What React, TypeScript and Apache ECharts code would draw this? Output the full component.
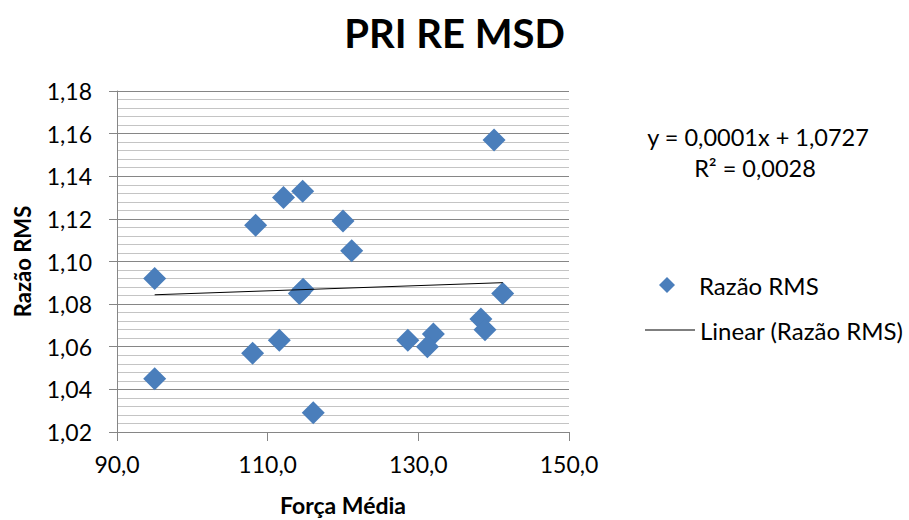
import React, { useEffect, useRef } from 'react';
import * as echarts from 'echarts';

// Força média (x) and razão RMS (y) for each trial
const forcaMedia = [95.0, 95.0, 108.4, 108.0, 112.1, 111.55, 114.65, 114.2, 114.7, 120.0, 121.15, 116.05, 128.6, 132.0, 131.2, 138.3, 138.85, 141.2, 140.05];
const razaoRms = [1.092, 1.045, 1.117, 1.057, 1.13, 1.063, 1.133, 1.085, 1.087, 1.119, 1.105, 1.029, 1.063, 1.066, 1.06, 1.073, 1.068, 1.085, 1.157];

// Linear trend line coefficients
const trendSlope = 0.000123;
const trendIntercept = 1.0727;
const trendR2 = 0.0028;

// Axis ranges
const xMin = 90;
const xMax = 150;
const xStep = 20;
const yMin = 1.02;
const yMax = 1.18;
const yStep = 0.02;

const FONT = 'Lato, "Open Sans", sans-serif';
const comma = (v: number, d: number) => v.toFixed(d).replace('.', ',');

export default function App() {
  const ref = useRef<HTMLDivElement>(null);

  useEffect(() => {
    document.body.style.margin = '0';
    if (!ref.current) return;
    const chart = echarts.init(ref.current, undefined, { renderer: 'svg' });

    const points = forcaMedia.map((x, i) => [x, razaoRms[i]]);
    const x0 = Math.min(...forcaMedia);
    const x1 = Math.max(...forcaMedia);
    const trend = [x0, x1].map((x) => [x, trendIntercept + trendSlope * x]);

    chart.setOption({
      animation: false,
      backgroundColor: '#ffffff',
      textStyle: { fontFamily: FONT },
      title: {
        text: 'PRI RE MSD',
        left: 'center',
        top: 8,
        textStyle: { fontFamily: FONT, fontSize: 40, fontWeight: 'bold', color: '#000' },
      },
      grid: { left: 117, right: 340, top: 91, bottom: 88, outerBoundsMode: 'none', containLabel: false },
      xAxis: {
        type: 'value',
        min: xMin,
        max: xMax,
        interval: xStep,
        name: 'Força Média',
        nameLocation: 'middle',
        nameGap: 61,
        nameTextStyle: { fontFamily: FONT, fontSize: 23, fontWeight: 'bold', color: '#000' },
        axisLine: { show: true, lineStyle: { color: '#868686', width: 1 } },
        axisTick: { show: true, length: 9, lineStyle: { color: '#868686' } },
        axisLabel: {
          margin: 20,
          fontFamily: FONT,
          fontSize: 23,
          color: '#000',
          formatter: (v: number) => comma(v, 1),
        },
        splitLine: { show: false },
      },
      yAxis: {
        type: 'value',
        min: yMin,
        max: yMax,
        interval: yStep,
        name: 'Razão RMS',
        nameLocation: 'middle',
        nameGap: 84,
        nameTextStyle: { fontFamily: FONT, fontSize: 22, fontWeight: 'bold', color: '#000' },
        axisLine: { show: true, lineStyle: { color: '#868686', width: 1 } },
        axisTick: { show: true, length: 8, lineStyle: { color: '#868686' } },
        axisLabel: {
          margin: 25,
          fontFamily: FONT,
          fontSize: 23,
          color: '#000',
          formatter: (v: number) => comma(v, 2),
        },
        splitLine: { show: true, lineStyle: { color: '#868686', width: 1 } },
        minorTick: { show: false, splitNumber: 5 },
        minorSplitLine: { show: true, lineStyle: { color: '#c4c4c4', width: 1 } },
      },
      legend: [
        {
          data: ['Razão RMS'],
          left: 654,
          top: 268,
          itemWidth: 16,
          itemHeight: 16,
          textStyle: { fontFamily: FONT, fontSize: 24, color: '#000', padding: [0, 0, 0, 19] },
        },
        {
          data: [{ name: 'Linear (Razão RMS)', icon: 'rect' }],
          left: 640,
          top: 313,
          itemWidth: 50,
          itemHeight: 1,
          textStyle: { fontFamily: FONT, fontSize: 24, color: '#000' },
        },
      ],
      graphic: [
        {
          type: 'text',
          x: 758,
          y: 137,
          style: {
            text: `y = ${comma(trendSlope, 4)}x + ${comma(trendIntercept, 4)}`,
            font: `23.5px ${FONT}`,
            fill: '#000',
            align: 'center',
            verticalAlign: 'middle',
          },
        },
        {
          type: 'text',
          x: 755,
          y: 168,
          style: {
            text: `R² = ${comma(trendR2, 4)}`,
            font: `23.5px ${FONT}`,
            fill: '#000',
            align: 'center',
            verticalAlign: 'middle',
          },
        },
      ],
      series: [
        {
          name: 'Razão RMS',
          type: 'scatter',
          symbol: 'diamond',
          symbolSize: 23,
          itemStyle: { color: '#4A7EBB', opacity: 1 },
          data: points,
          z: 2,
        },
        {
          name: 'Linear (Razão RMS)',
          type: 'line',
          symbol: 'none',
          lineStyle: { color: '#000', width: 1 },
          itemStyle: { color: '#000' },
          data: trend,
          z: 3,
        },
      ],
    });

    return () => chart.dispose();
  }, []);

  return <div ref={ref} style={{ width: 909, height: 520 }} />;
}
